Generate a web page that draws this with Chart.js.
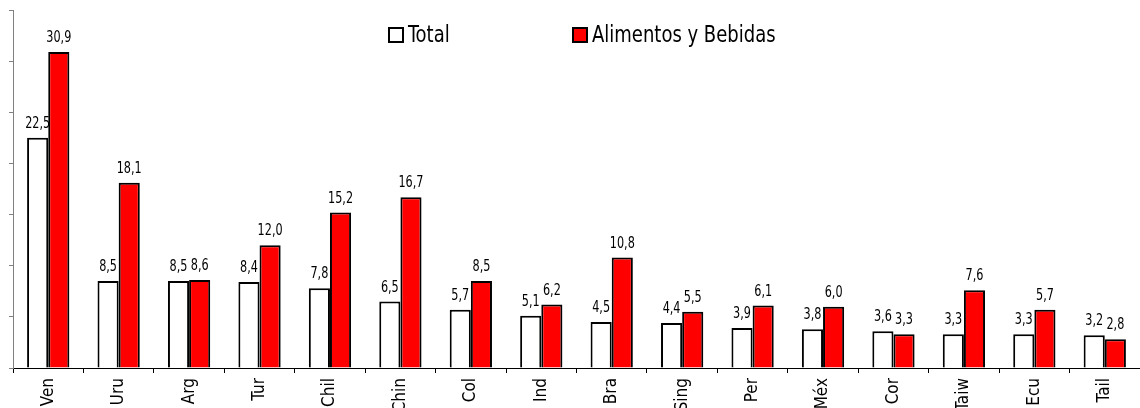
<!DOCTYPE html>
<html>
<head>
<meta charset="utf-8">
<script src="https://cdn.jsdelivr.net/npm/chart.js@4"></script>
<style>
    body { margin: 0; background: #fff; }
    #wrap { width: 1140px; height: 408px; position: relative; }
</style>
</head>
<body>
<div id="wrap"><canvas id="grafico"></canvas></div>
<script>

const paises = ['Ven', 'Uru', 'Arg', 'Tur', 'Chil', 'Chin', 'Col', 'Ind', 'Bra', 'Sing', 'Per', 'Méx', 'Cor', 'Taiw', 'Ecu', 'Tail'];
const total = [22.5, 8.5, 8.5, 8.4, 7.8, 6.5, 5.7, 5.1, 4.5, 4.4, 3.9, 3.8, 3.6, 3.3, 3.3, 3.2];
const alimentos = [30.9, 18.1, 8.6, 12.0, 15.2, 16.7, 8.5, 6.2, 10.8, 5.5, 6.1, 6.0, 3.3, 7.6, 5.7, 2.8];
const ejeY = [0, 35, 5];

const fuente = "'DejaVu Sans Condensed', 'Liberation Sans Narrow', sans-serif";

// texto mas estrecho (la fuente original es narrow)
function textoEstrecho(ctx, txt, x, y, escala) {
    ctx.save();
    ctx.translate(x, y);
    ctx.scale(escala, 1);
    ctx.fillText(txt, 0, 0);
    ctx.restore();
}

// numeros encima de las barras
const etiquetas = {
    id: 'etiquetas',
    afterDatasetsDraw(chart) {
        const ctx = chart.ctx;
        ctx.save();
        ctx.font = '16px ' + fuente;
        ctx.fillStyle = '#000';
        ctx.textAlign = 'center';
        ctx.textBaseline = 'alphabetic';
        chart.data.datasets.forEach(function(ds, i) {
            chart.getDatasetMeta(i).data.forEach(function(el, j) {
                let txt = ds.data[j].toFixed(1).replace('.', ',');
                textoEstrecho(ctx, txt, el.x, el.y - 10, 0.78);
            });
        });
        ctx.restore();
    }
};

// leyenda dibujada a mano, dentro del area
const leyenda = {
    id: 'leyenda',
    afterDraw(chart) {
        const ctx = chart.ctx;
        const pos = [389, 573];
        ctx.save();
        ctx.font = '23px ' + fuente;
        ctx.textBaseline = 'middle';
        chart.data.datasets.forEach(function(ds, i) {
            let x = pos[i];
            ctx.fillStyle = ds.backgroundColor;
            ctx.fillRect(x, 28, 14, 14);
            ctx.lineWidth = 2;
            ctx.strokeStyle = '#000';
            ctx.strokeRect(x, 28, 14, 14);
            ctx.fillStyle = '#000';
            textoEstrecho(ctx, ds.label, x + 19, 36, 0.87);
        });
        ctx.restore();
    }
};

new Chart(document.getElementById('grafico'), {
    type: 'bar',
    data: {
        labels: paises,
        datasets: [{
            label: 'Total',
            data: total,
            backgroundColor: '#ffffff',
            borderColor: '#000000',
            borderWidth: 2,
            borderSkipped: 'bottom',
            barPercentage: 1,
            categoryPercentage: 0.6
        }, {
            label: 'Alimentos y Bebidas',
            data: alimentos,
            backgroundColor: '#ff0000',
            borderColor: '#000000',
            borderWidth: 2,
            borderSkipped: 'bottom',
            barPercentage: 1,
            categoryPercentage: 0.6
        }]
    },
    options: {
        responsive: true,
        maintainAspectRatio: false,
        animation: false,
        layout: { padding: { top: 10, left: 0, right: 0, bottom: 0 } },
        plugins: {
            legend: { display: false },
            tooltip: { enabled: false }
        },
        scales: {
            x: {
                grid: { offset: true, drawOnChartArea: false, tickLength: 5, color: '#000' },
                border: { color: '#000', width: 1 },
                ticks: {
                    color: '#000',
                    font: { family: fuente, size: 17 },
                    minRotation: 90,
                    maxRotation: 90,
                    padding: 5
                },
                afterFit: function(scale) { scale.height = 40; }
            },
            y: {
                min: ejeY[0],
                max: ejeY[1],
                ticks: { display: false, stepSize: ejeY[2] },
                grid: { drawOnChartArea: false, tickLength: 4, color: '#808080' },
                border: { color: '#808080', width: 1 },
                afterFit: function(scale) { scale.width = 13; }
            }
        }
    },
    plugins: [etiquetas, leyenda]
});
</script>
</body>
</html>
